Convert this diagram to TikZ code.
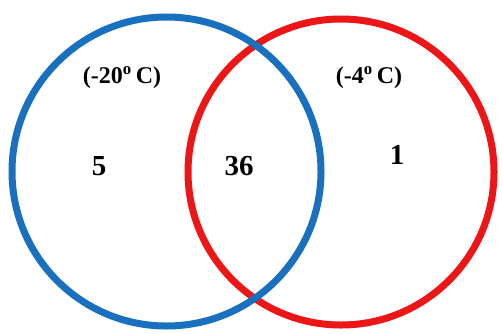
\documentclass[tikz,border=0pt]{standalone}
\usepackage{fontspec}
\setmainfont{Liberation Serif}
\definecolor{ringblue}{RGB}{24,112,190}
\definecolor{ringred}{RGB}{236,22,22}
\tikzset{
  ring/.style={line width=7pt},
  tag/.style={font=\bfseries\fontsize{24}{26}\selectfont},
  count/.style={font=\bfseries\fontsize{29}{31}\selectfont}
}
\begin{document}
\begin{tikzpicture}[x=1pt,y=1pt]

\useasboundingbox (0,0) rectangle (502,333);

% circles (blue lies over red)
\draw[ring, ringred] (341,161) circle (153);
\draw[ring, ringblue] (166.5,161.5) circle (154.5);

% temperature labels
\node[tag] (cold) at (122,255) {(-20\textsuperscript{o}\,C)};
\node[tag] (cool) at (369,255) {(-4\textsuperscript{o}\,C)};

% counts
\node[count] (onlycold) at (99,167) {5};
\node[count] (both) at (239,167) {36};
\node[count] (onlycool) at (397,178) {1};

\end{tikzpicture}
\end{document}
